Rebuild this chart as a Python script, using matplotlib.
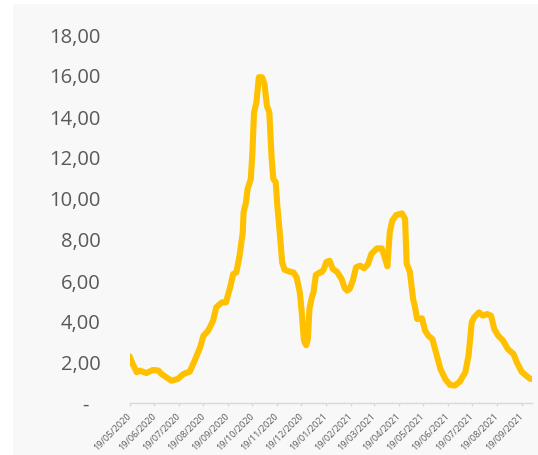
import datetime as dt

import matplotlib
matplotlib.use("Agg")
import matplotlib.dates as mdates
import matplotlib.pyplot as plt
import matplotlib.ticker as mticker
from matplotlib.patches import Rectangle

# Series: days after 19/05/2020 and the value on that day.
START = dt.date(2020, 5, 19)
day_offset = [
    0, 4, 9, 13, 21, 29, 36, 40, 46, 52, 60, 67, 75, 81, 88, 92, 98, 104, 108,
    115, 120, 125, 129, 133, 137, 141, 142, 145, 147, 151, 153, 155, 158, 161,
    165, 168, 171, 174, 177, 179, 182, 184, 187, 190, 193, 200, 204, 208, 212,
    214, 217, 218, 220, 222, 224, 227, 229, 232, 237, 239, 242, 245, 249, 253,
    258, 264, 268, 271, 274, 278, 282, 287, 292, 297, 301, 308, 314, 317, 321,
    324, 327, 332, 339, 343, 345, 349, 353, 355, 358, 364, 368, 372, 377, 382,
    387, 393, 399, 405, 411, 418, 422, 426, 429, 435, 440, 445, 450, 454, 459,
    465, 471, 478, 482, 488, 494, 499,
]
values = [
    2.28, 1.90, 1.50, 1.58, 1.46, 1.61, 1.58, 1.41, 1.25, 1.09, 1.17, 1.41,
    1.53, 2.06, 2.72, 3.28, 3.53, 4.01, 4.67, 4.91, 4.91, 5.60, 6.29, 6.37,
    7.19, 8.33, 9.30, 9.79, 10.44, 10.93, 12.23, 14.18, 14.67, 15.89, 15.89,
    15.56, 14.50, 14.18, 11.90, 10.93, 10.77, 9.62, 8.33, 6.86, 6.50, 6.40,
    6.37, 6.13, 5.40, 4.60, 3.12, 2.96, 2.82, 3.12, 4.60, 5.16, 5.40, 6.25,
    6.37, 6.37, 6.54, 6.87, 6.94, 6.54, 6.41, 6.05, 5.60, 5.48, 5.56, 5.97,
    6.62, 6.70, 6.57, 6.78, 7.27, 7.54, 7.54, 7.19, 6.67, 8.33, 8.89, 9.17,
    9.25, 8.98, 6.80, 6.40, 5.07, 4.75, 4.10, 4.13, 3.53, 3.28, 3.12, 2.39,
    1.66, 1.17, 0.88, 0.85, 1.04, 1.50, 2.31, 3.94, 4.18, 4.42, 4.26, 4.34,
    4.26, 3.61, 3.28, 3.04, 2.63, 2.39, 1.99, 1.53, 1.33, 1.17,
]
y_ticks = [0, 2, 4, 6, 8, 10, 12, 14, 16, 18]

LINE = "#FFC000"
TEXT = "#595959"
AXIS = "#D9D9D9"
BG = "#F8F8F8"

dates = [START + dt.timedelta(days=d) for d in day_offset]
month_ticks = [dt.date(2020 + (4 + i) // 12, (4 + i) % 12 + 1, 19) for i in range(17)]

fig = plt.figure(figsize=(5.38, 4.56), dpi=100)
# Chart-area fill, inset a little from the top/left like the source.
fig.patches.append(Rectangle((13 / 538, 0), 1 - 13 / 538, 1 - 5 / 456,
                             transform=fig.transFigure, facecolor=BG,
                             edgecolor="none", zorder=-10))

ax = fig.add_axes([129.5 / 538, 1 - 404 / 456, (532 - 129.5) / 538, (404 - 35) / 456])
ax.set_facecolor("none")
ax.plot(dates, values, color=LINE, lw=4.4, solid_capstyle="round",
        solid_joinstyle="round")

ax.set_xlim(START, START + dt.timedelta(days=501))
ax.set_ylim(0, 18)

for side in ("top", "right", "left"):
    ax.spines[side].set_visible(False)
ax.spines["bottom"].set_color(AXIS)
ax.spines["bottom"].set_linewidth(1.0)

ax.set_yticks(y_ticks)
ax.yaxis.set_major_formatter(mticker.FuncFormatter(
    lambda v, _: "-  " if v == 0 else f"{v:.2f}".replace(".", ",")))
ax.tick_params(axis="y", length=0, pad=21, labelsize=14.5, labelcolor=TEXT)
for lab in ax.get_yticklabels():
    lab.set_family("Open Sans")

ax.set_xticks(month_ticks)
ax.xaxis.set_major_formatter(mdates.DateFormatter("%d/%m/%Y"))
ax.tick_params(axis="x", direction="out", length=2.5, width=1.0, color=AXIS,
               pad=5.5, labelsize=6.6, labelcolor=TEXT)
for lab in ax.get_xticklabels():
    lab.set_family("Open Sans")
    lab.set_rotation(45)
    lab.set_ha("right")
    lab.set_va("center")
    lab.set_rotation_mode("anchor")

fig.savefig("out.png", dpi=100)
